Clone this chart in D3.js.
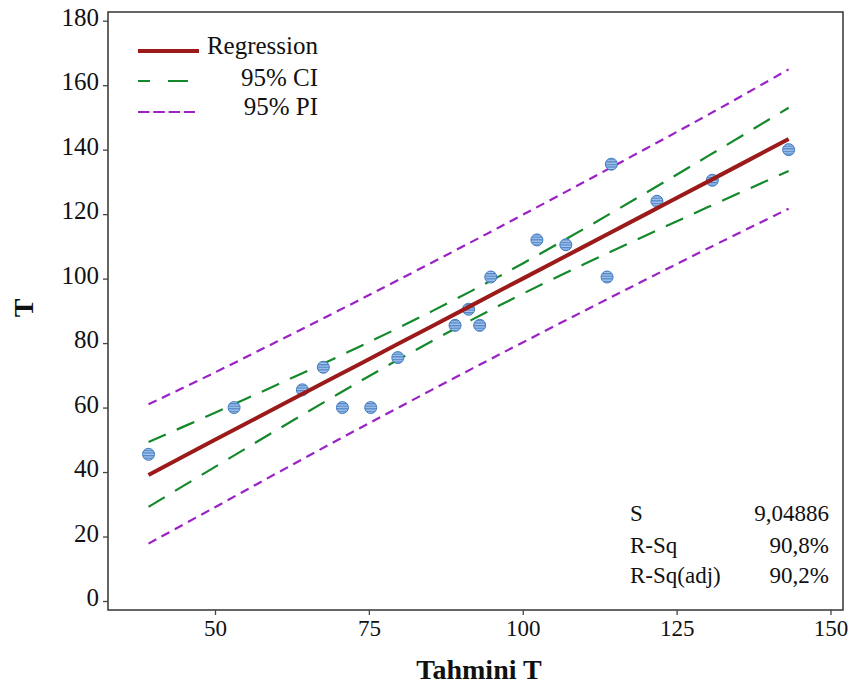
<!DOCTYPE html>
<html>
<head>
<meta charset="utf-8">
<script src="https://cdn.jsdelivr.net/npm/d3@7"></script>
<style>
  html, body { margin: 0; padding: 0; background: #fff; }
  svg { display: block; }
  svg text { font-family: "Liberation Serif", Tinos, "Times New Roman", "DejaVu Serif", "Noto Serif", serif !important; fill: #111; }
</style>
</head>
<body>
<svg id="chart" width="854" height="686"></svg>
<script>
// ---- data ----
const pointX = [39.2, 53.1, 64.2, 67.6, 70.7, 75.3, 79.7, 89.0, 91.2, 93.0, 94.8, 102.3, 107.0, 113.7, 114.4, 121.8, 130.8, 143.2];
const pointY = [45.5, 60, 65.5, 72.5, 60, 60, 75.5, 85.5, 90.5, 85.5, 100.5, 112, 110.5, 100.5, 135.5, 124, 130.5, 140];

const bandX   = [39.2, 50, 60, 70, 80, 91.7, 100, 110, 120, 130, 143.2];
const fitY    = [39.1, 50.0, 60.0, 70.0, 80.0, 91.7, 100.0, 110.0, 120.0, 130.0, 143.3];
const ciUpper = [49.3, 58.4, 67.0, 75.8, 84.9, 96.2, 104.7, 115.5, 126.6, 137.9, 153.0];
const ciLower = [29.2, 41.6, 53.0, 64.2, 75.1, 87.2, 95.3, 104.5, 113.4, 122.1, 133.4];
const piUpper = [61.0, 70.9, 80.4, 90.0, 99.8, 111.4, 119.8, 130.0, 140.3, 150.7, 164.9];
const piLower = [17.8, 29.1, 39.6, 50.0, 60.2, 72.0, 80.2, 90.0, 99.7, 109.3, 121.7];

const xTicks = [50, 75, 100, 125, 150];
const yTicks = [0, 20, 40, 60, 80, 100, 120, 140, 160, 180];

const legendLabels = ["Regression", "95% CI", "95% PI"];
const statNames  = ["S", "R-Sq", "R-Sq(adj)"];
const statValues = ["9,04886", "90,8%", "90,2%"];

const xTitle = "Tahmini T";
const yTitle = "T";

// ---- layout ----
const frame = { left: 108, right: 843, top: 12, bottom: 610 };
const x = d3.scaleLinear().domain([50, 150]).range([215, 830.5]);
const y = d3.scaleLinear().domain([0, 180]).range([601, 20.7]);

const colRed = "#9b1a1a", colGreen = "#13892b", colPurple = "#9a22c4";
const serif = '"Liberation Serif", Tinos, "Times New Roman", "DejaVu Serif", serif';

const svg = d3.select("#chart");

// hatch pattern for points
const defs = svg.append("defs");
const pat = defs.append("pattern").attr("id", "hatch")
  .attr("patternUnits", "userSpaceOnUse").attr("width", 4).attr("height", 2.6);
pat.append("rect").attr("width", 4).attr("height", 2.6).attr("fill", "#a9c6ea");
pat.append("rect").attr("width", 4).attr("height", 1.3).attr("fill", "#4f86c8");

// frame
svg.append("rect")
  .attr("x", frame.left).attr("y", frame.top)
  .attr("width", frame.right - frame.left).attr("height", frame.bottom - frame.top)
  .attr("fill", "none").attr("stroke", "#333").attr("stroke-width", 1.5);

// axes
const xAxis = svg.append("g").attr("transform", `translate(0,${frame.bottom})`)
  .attr("font-family", serif)
  .call(d3.axisBottom(x).tickValues(xTicks).tickSize(5).tickPadding(4).tickFormat(d3.format("d")));
xAxis.attr("font-family", serif);
xAxis.select(".domain").remove();
xAxis.selectAll(".tick line").attr("stroke", "#444").attr("stroke-width", 1.3);
xAxis.selectAll(".tick text").attr("font-size", 23).attr("fill", "#111").attr("dy", "0.74em");

const yAxis = svg.append("g").attr("transform", `translate(${frame.left},0)`)
  .call(d3.axisLeft(y).tickValues(yTicks).tickSize(5).tickPadding(4).tickFormat(d3.format("d")));
yAxis.attr("font-family", serif);
yAxis.select(".domain").remove();
yAxis.selectAll(".tick line").attr("stroke", "#444").attr("stroke-width", 1.3);
yAxis.selectAll(".tick text").attr("font-size", 25).attr("fill", "#111").attr("dy", "0.18em");

// bands and fit
function bandLine(vals) {
  return d3.line().x((d, i) => x(bandX[i])).y(d => y(d)).curve(d3.curveCatmullRom)(vals);
}
svg.append("path").attr("d", bandLine(piUpper)).attr("fill", "none")
  .attr("stroke", colPurple).attr("stroke-width", 2.2).attr("stroke-dasharray", "9,6");
svg.append("path").attr("d", bandLine(piLower)).attr("fill", "none")
  .attr("stroke", colPurple).attr("stroke-width", 2.2).attr("stroke-dasharray", "9,6");
svg.append("path").attr("d", bandLine(ciUpper)).attr("fill", "none")
  .attr("stroke", colGreen).attr("stroke-width", 2.2).attr("stroke-dasharray", "19,12");
svg.append("path").attr("d", bandLine(ciLower)).attr("fill", "none")
  .attr("stroke", colGreen).attr("stroke-width", 2.2).attr("stroke-dasharray", "19,12");

// points
svg.append("g").selectAll("circle").data(pointX).join("circle")
  .attr("cx", d => x(d)).attr("cy", (d, i) => y(pointY[i]))
  .attr("r", 6).attr("fill", "url(#hatch)")
  .attr("stroke", "#3f7cc2").attr("stroke-width", 1);

svg.append("path").attr("d", bandLine(fitY)).attr("fill", "none")
  .attr("stroke", colRed).attr("stroke-width", 4);

// legend
const lg = svg.append("g").attr("font-family", serif);
lg.append("line").attr("x1", 138).attr("x2", 199).attr("y1", 51).attr("y2", 51)
  .attr("stroke", colRed).attr("stroke-width", 4);
lg.append("line").attr("x1", 138).attr("x2", 199).attr("y1", 81).attr("y2", 81)
  .attr("stroke", colGreen).attr("stroke-width", 2.2)
  .attr("stroke-dasharray", "20,18").attr("stroke-dashoffset", 8);
lg.append("line").attr("x1", 138).attr("x2", 195).attr("y1", 112).attr("y2", 112)
  .attr("stroke", colPurple).attr("stroke-width", 2.2).attr("stroke-dasharray", "11.5,3.8");
const legBase = [54, 86, 115];
lg.selectAll("text").data(legendLabels).join("text")
  .attr("x", 318).attr("y", (d, i) => legBase[i])
  .attr("text-anchor", "end").attr("font-size", 25).text(d => d);

// stats
const statBase = [521, 553, 583];
const sg = svg.append("g").attr("font-family", serif);
sg.selectAll("text.n").data(statNames).join("text").attr("class", "n")
  .attr("x", 630).attr("y", (d, i) => statBase[i]).attr("font-size", 23).text(d => d);
sg.selectAll("text.v").data(statValues).join("text").attr("class", "v")
  .attr("x", 829).attr("y", (d, i) => statBase[i]).attr("font-size", 23)
  .attr("text-anchor", "end").text(d => d);

// axis titles
svg.append("text").attr("x", 479).attr("y", 679).attr("text-anchor", "middle")
  .attr("font-family", serif)
  .attr("font-size", 28).attr("font-weight", "bold").text(xTitle);
svg.append("text").attr("transform", "translate(33,308) rotate(-90)")
  .attr("font-family", serif)
  .attr("text-anchor", "middle").attr("font-size", 28).attr("font-weight", "bold").text(yTitle);
</script>
</body>
</html>
